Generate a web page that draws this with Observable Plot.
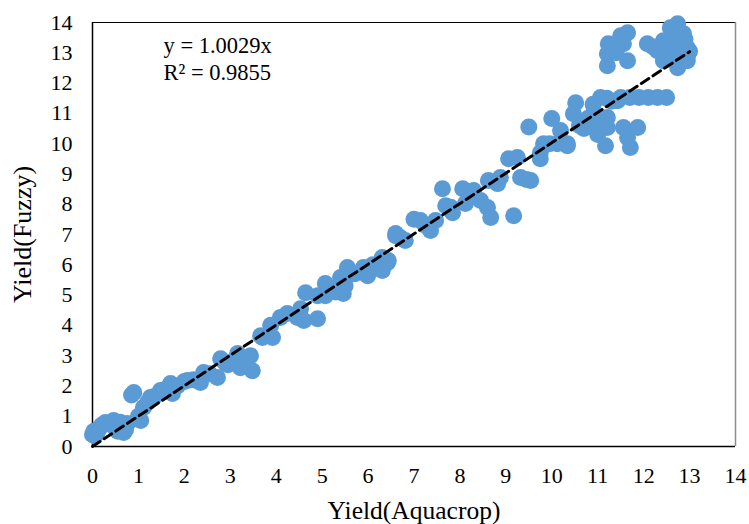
<!DOCTYPE html>
<html>
<head>
<meta charset="utf-8">
<script src="https://cdn.jsdelivr.net/npm/d3@7"></script>
<script src="https://cdn.jsdelivr.net/npm/@observablehq/plot@0.6"></script>
<style>
  html, body { margin: 0; padding: 0; background: #fff; }
  #chart svg { display: block; }
</style>
</head>
<body>
<div id="chart"></div>
<script>
// ---- Data ----
const aquacrop = [
  0.00,0.03,0.05,0.10,0.15,0.20,0.28,0.35,0.46,0.50,0.55,0.68,0.60,0.76,0.72,0.90,0.85,1.05,1.00,1.11,
  1.20,1.26,1.35,1.48,1.60,1.70,1.74,1.85,2.00,2.07,2.20,2.35,2.42,2.55,2.72,2.79,2.90,3.07,3.22,3.30,
  3.44,3.48,3.16,2.95,
  3.66,3.70,3.88,3.92,4.09,4.24,4.46,4.53,4.60,4.90,4.64,4.90,5.07,5.07,5.20,5.40,5.46,5.50,5.55,5.30,
  5.90,5.99,6.10,6.31,6.42,6.31,6.44,6.60,6.60,6.81,6.70,5.70,5.85,
  7.14,7.00,7.36,7.47,7.25,7.62,7.69,7.84,7.80,8.06,8.12,8.30,8.20,8.45,8.60,8.67,8.62,8.82,8.88,9.17,
  9.06,9.25,9.32,9.54,9.45,9.75,9.82,10.12,10.34,9.50,10.00,9.95,9.75,
  10.19,10.34,10.52,10.47,10.60,10.78,10.91,11.06,11.00,11.21,11.21,11.17,11.56,11.71,11.87,11.43,11.30,10.90,11.20,11.50,
  11.70,11.90,12.10,12.30,12.50,11.65,11.00,10.70,
  11.23,11.21,11.21,11.50,11.65,11.56,11.65,11.40,12.08,12.30,12.43,12.58,12.74,12.87,12.95,12.95,12.74,12.43,12.58,12.80,
  12.65,12.50,12.20,12.90,12.70,13.00,12.95
];
const fuzzy = [
  0.40,0.50,0.35,0.45,0.60,0.70,0.79,0.75,0.86,0.60,0.50,0.46,0.80,0.76,0.55,1.78,1.70,0.86,1.00,1.29,
  1.45,1.62,1.65,1.85,1.90,2.08,1.75,2.00,2.15,2.18,2.20,2.11,2.44,2.40,2.28,2.90,2.75,2.84,2.60,2.90,
  3.00,2.50,3.07,2.70,
  3.66,3.60,4.00,3.60,4.26,4.39,4.26,4.55,4.16,4.22,5.08,4.98,5.38,4.98,5.20,5.58,5.05,5.30,5.91,5.10,
  5.91,5.64,6.00,6.24,6.07,5.81,6.14,7.03,6.96,6.80,6.90,5.70,5.75,
  7.46,7.50,7.13,7.46,7.30,8.51,7.95,7.72,7.90,8.51,8.02,8.45,8.30,8.12,7.89,7.56,8.78,8.68,8.88,7.62,
  9.50,9.54,8.88,8.78,8.82,9.50,10.00,10.00,9.93,10.55,10.83,10.00,9.70,
  10.43,10.00,11.35,10.99,10.60,10.83,11.02,11.52,10.60,10.86,10.53,9.93,10.53,9.87,10.53,11.42,11.40,11.30,11.50,11.52,
  11.52,11.52,11.52,11.52,11.52,10.20,10.30,10.50,
  13.30,12.97,12.57,13.56,13.66,13.30,12.74,13.00,13.30,13.07,13.40,13.83,13.96,13.63,13.17,12.74,12.51,12.74,12.97,13.30,
  13.60,13.20,13.20,13.45,12.90,13.05,12.85
];
const xTicks = [0,1,2,3,4,5,6,7,8,9,10,11,12,13,14];
const yTicks = [0,1,2,3,4,5,6,7,8,9,10,11,12,13,14];
const fitSlope = 1.0029;
const rSquared = 0.9855;
const fitRange = [0, 13];
const xTitle = "Yield(Aquacrop)";
const yTitle = "Yield(Fuzzy)";

// ---- Tables built from the arrays ----
const points = aquacrop.map((x, i) => ({x, y: fuzzy[i]}));
const fitLine = fitRange.map(x => ({x, y: fitSlope * x}));
const eqLabel = `y = ${fitSlope.toFixed(4)}x\nR² = ${rSquared.toFixed(4)}`;

const serif = "'Liberation Serif', 'Times New Roman', serif";

const chart = Plot.plot({
  width: 749,
  height: 524,
  marginLeft: 92,
  marginRight: 14,
  marginTop: 22,
  marginBottom: 78,
  style: {fontFamily: serif, fontSize: "22px", background: "#fff", overflow: "visible", color: "#000"},
  x: {domain: [0, 14], axis: null},
  y: {domain: [0, 14], axis: null},
  marks: [
    Plot.ruleY([14], {stroke: "#000", strokeWidth: 1}),
    Plot.ruleX([14], {stroke: "#8c8c8c", strokeWidth: 1.5}),
    Plot.ruleX([0], {stroke: "#000", strokeWidth: 1.5}),
    Plot.ruleY([0], {stroke: "#000", strokeWidth: 1.5}),
    // tick labels drawn through the scales
    Plot.text(xTicks, {x: d => d, y: () => 0, dy: 21, text: d => String(d), textAnchor: "middle", lineAnchor: "top", fontSize: 22, fontFamily: serif, fill: "#000"}),
    Plot.text(yTicks, {x: () => 0, y: d => d, dx: -20, text: d => String(d), textAnchor: "end", lineAnchor: "middle", fontSize: 22, fontFamily: serif, fill: "#000"}),
    Plot.dot(points, {x: "x", y: "y", r: 8.5, fill: "#5B9BD5", stroke: "none", clip: false}),
    Plot.line(fitLine, {x: "x", y: "y", stroke: "#000", strokeWidth: 3, strokeDasharray: "9,5"}),
    Plot.text([eqLabel], {frameAnchor: "top-left", dx: 71, dy: 11, text: d => d, textAnchor: "start", lineAnchor: "top", lineHeight: 1.2, fontSize: 22.5, fontFamily: serif, fill: "#000"}),
    Plot.text([xTitle], {frameAnchor: "bottom", dy: 64, text: d => d, textAnchor: "middle", lineAnchor: "middle", fontSize: 25.5, fontFamily: serif, fill: "#000"}),
    Plot.text([yTitle], {frameAnchor: "left", dx: -70, text: d => d, rotate: -90, textAnchor: "middle", lineAnchor: "middle", fontSize: 26, fontFamily: serif, fill: "#000"})
  ]
});
document.getElementById("chart").appendChild(chart);
</script>
</body>
</html>
